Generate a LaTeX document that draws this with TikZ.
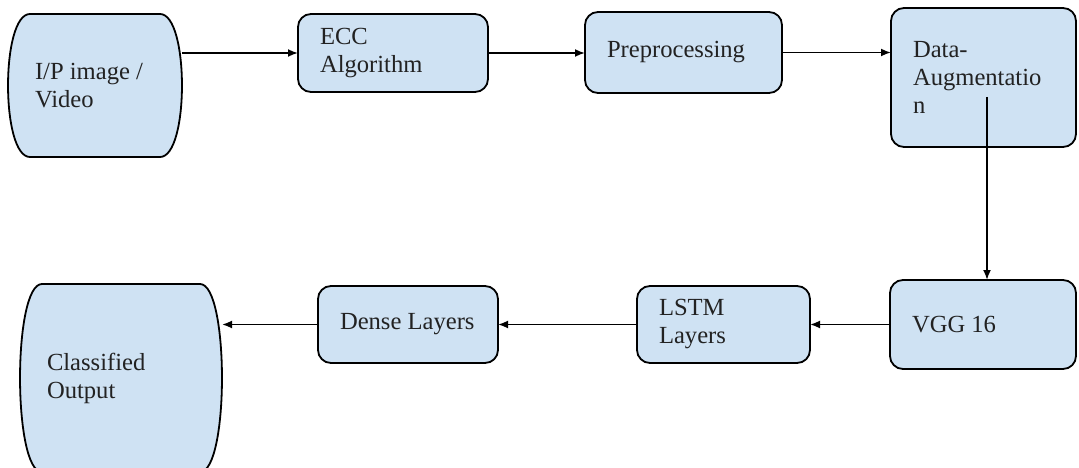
\documentclass[tikz,border=0pt]{standalone}
\usepackage{fontspec}
\setmainfont{Liberation Serif}
\usetikzlibrary{arrows.meta, backgrounds}

\definecolor{boxblue}{HTML}{CFE2F3}
\definecolor{inkgray}{HTML}{222222}

\tikzset{
  every node/.style={execute at begin node={\spaceskip=0.25em\relax\hyphenpenalty=10000\relax}},
  procbox/.style={draw=black, line width=1.8pt, fill=boxblue, rounded corners=13pt,
    inner xsep=22pt, inner ysep=0pt, outer sep=0pt, align=left, text=inkgray},
  termtext/.style={inner xsep=27pt, inner ysep=0pt, outer sep=0pt, align=left, text=inkgray},
  termline/.style={draw=black, line width=1.8pt, fill=boxblue},
  flow/.style={line width=1.8pt, -{Latex[length=10pt, width=8pt]}}
}

% terminal shape with bulging sides round a text node
\newcommand{\drawterm}[1]{%
  \begin{pgfonlayer}{background}
  \draw[termline] ([xshift=22pt]#1.north west) -- ([xshift=-22pt]#1.north east)
    .. controls ([xshift=7.3pt]#1.north east) and ([xshift=7.3pt]#1.south east) .. ([xshift=-22pt]#1.south east)
    -- ([xshift=22pt]#1.south west)
    .. controls ([xshift=-7.3pt]#1.south west) and ([xshift=-7.3pt]#1.north west) .. ([xshift=22pt]#1.north west) -- cycle;
  \end{pgfonlayer}}

\begin{document}
\begin{tikzpicture}[x=1pt, y=-1pt, font=\fontsize{24.6}{28}\selectfont]
\useasboundingbox (0,0) rectangle (1079,468);

% top row
\node[termtext, text width=120pt, minimum height=143pt] (ip) at (95,85.5) {I/P image /\\Video};
\drawterm{ip}
\node[procbox, text width=146pt, minimum height=78pt] (ecc) at (393,53) {ECC\\Algorithm};
\node[procbox, text width=153pt, minimum height=81pt] (prep) at (683.5,52.5) {Preprocessing};
\node[procbox, text width=141pt, minimum height=139pt] (aug) at (983.5,77.5) {Data-\\Augmentatio\\n};

% bottom row
\node[procbox, text width=142pt, minimum height=89pt] (vgg) at (983,324.5) {VGG 16};
\node[procbox, text width=129pt, minimum height=77pt] (lstm) at (723.5,324.5) {LSTM\\Layers};
\node[procbox, text width=136pt, minimum height=77pt] (dense) at (408,324.5) {Dense~Layers};
\node[termtext, text width=148pt, minimum height=188pt] (out) at (121,378) {Classified\\Output};
\drawterm{out}

\coordinate (augout) at (987,97);

% connectors
\draw[flow] (ip.east |- ecc.west) -- (ecc.west);
\draw[flow] (ecc.east) -- (ecc.east -| prep.west);
\draw[flow] (prep.east) -- (prep.east -| aug.west);
\draw[flow] (augout) -- (augout |- vgg.north);
\draw[flow] (vgg.west) -- (vgg.west -| lstm.east);
\draw[flow] (lstm.west) -- (lstm.west -| dense.east);
\draw[flow] (dense.west) -- (dense.west -| out.east);
\end{tikzpicture}
\end{document}
